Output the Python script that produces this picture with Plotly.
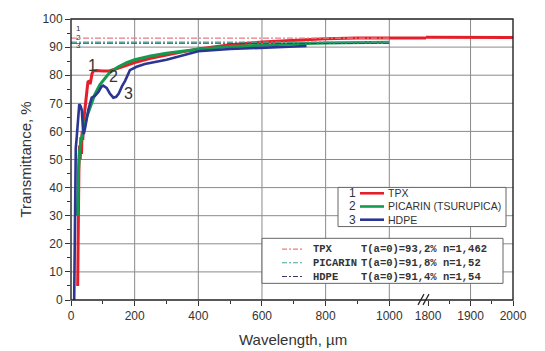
import plotly.graph_objects as go

# ---------------- data ----------------
tpx_wl = [21, 22, 23, 25, 27, 29, 31, 33, 35, 37, 40, 43, 47, 50, 53, 57, 60, 63, 66, 70, 80, 100,
          120, 140, 160, 180, 200, 250, 300, 350, 400, 500, 600, 700, 800, 900, 1000, 1100, 1200,
          1800, 1900, 2000]
tpx_T = [5, 30, 42, 48, 55, 50, 58, 52, 60, 57, 64, 67, 72, 74, 77.5, 78, 76.8, 78.5, 80.5, 81.5, 81.7, 81.5,
         81.5, 82.2, 83, 83.7, 84.5, 86, 87.2, 88.3, 89.3, 90.8, 91.8, 92.5, 93, 93.2, 93.4, 93.5, 93.5,
         93.5, 93.5, 93.4]

pic_wl = [20, 23, 27, 32, 39, 49, 60, 75, 91, 107, 122, 149, 175, 200, 250, 300, 350, 400, 500, 600,
          700, 800, 900, 1000]
pic_T = [30, 45, 53, 57, 60.5, 65, 68.5, 73.2, 76.7, 79, 81, 83, 84.5, 85.5, 86.8, 87.8, 88.6, 89.2,
         90.2, 90.8, 91.2, 91.5, 91.6, 91.7]

hdpe_wl = [10, 11, 12, 13, 15, 18, 22, 26, 30, 34, 37, 40, 44, 49, 55, 65, 75, 86, 95, 101, 112, 122,
           133, 142, 150, 160, 170, 185, 206, 232, 300, 350, 400, 500, 600, 700, 740]
hdpe_T = [0, 10, 40, 50, 54, 58, 66, 69.7, 69, 67.5, 62, 59, 61, 65, 68, 72, 72.6, 74, 75.8, 76.3, 75.5,
          73.5, 72, 72.3, 73.5, 76, 78, 81.8, 83, 84, 85.5, 87, 88.5, 89.3, 89.8, 90.2, 90.4]

names = ["TPX", "PICARIN (TSURUPICA)", "HDPE"]
short_names = ["TPX", "PICARIN", "HDPE"]
T0 = [93.2, 91.8, 91.4]
n_idx = ["1,462", "1,52", "1,54"]
ref_wl = [0, 1000]

x_ticks1 = [0, 200, 400, 600, 800, 1000]
x_ticks2 = [1800, 1900, 2000]
x_grid2 = [1900]
y_ticks = list(range(0, 101, 10))

# ---------------- styles ----------------
curve_colors = ["#e3202a", "#139a4c", "#2b3592"]
ref_colors = ["#ec7a82", "#4aa497", "#3a3a66"]
FONT = "Liberation Sans, Arial, sans-serif"
MONO = "Liberation Mono, Courier New, monospace"
TXT = "#333333"
GRID = "#8a8a8a"

W, H = 545, 351
L, R, TOP, BOT = 71, 513, 13, 300
BREAK_PX = 426
Y_RANGE = [0, 100]


def pp(px, py):
    return (px - L) / (R - L), (BOT - py) / (BOT - TOP)


dom_split = (BREAK_PX - L) / (R - L)
x1_range = [0, (BREAK_PX - L) / 0.3183]
x2_range = [2000 - (R - BREAK_PX) / 0.4244, 2000]


def xpaper(v, rng, dom):
    return dom[0] + (v - rng[0]) / (rng[1] - rng[0]) * (dom[1] - dom[0])


def ypaper(v):
    return (v - Y_RANGE[0]) / (Y_RANGE[1] - Y_RANGE[0])


fig = go.Figure()

# ---- curves ----
curves = [(tpx_wl, tpx_T), (pic_wl, pic_T), (hdpe_wl, hdpe_T)]
widths = [3, 3, 2.6]
for xa in ["x", "x2"]:
    for (wl, T), c, w in zip(curves, curve_colors, widths):
        fig.add_trace(go.Scatter(x=wl, y=T, xaxis=xa, yaxis="y", mode="lines",
                                 line=dict(color=c, width=w), showlegend=False,
                                 hoverinfo="skip"))

# reference dash-dot lines (T at a=0)
for i in [2, 1, 0]:
    fig.add_trace(go.Scatter(x=ref_wl, y=[T0[i], T0[i]], xaxis="x", yaxis="y", mode="lines",
                             line=dict(color=ref_colors[i], width=1.2, dash="6px,2px,2px,2px"),
                             showlegend=False, hoverinfo="skip"))

axis_common = dict(ticks="outside", ticklen=5, tickwidth=1, tickcolor="#333",
                   showline=False, zeroline=False, showgrid=False,
                   tickfont=dict(family=FONT, size=12, color=TXT))

fig.update_layout(
    width=W, height=H,
    margin=dict(l=L, r=W - R, t=TOP, b=H - BOT),
    paper_bgcolor="white", plot_bgcolor="rgba(0,0,0,0)",
    xaxis=dict(domain=[0, dom_split], range=x1_range, tickmode="array", tickvals=x_ticks1, anchor="y",
               minor=dict(tickmode="array", tickvals=[100, 300, 500, 700, 900], ticklen=3,
                          ticks="outside", tickcolor="#333"),
               **axis_common),
    xaxis2=dict(domain=[dom_split, 1], range=x2_range, tickmode="array", tickvals=x_ticks2, anchor="y",
                minor=dict(tickmode="array", tickvals=[1850, 1950], ticklen=3, ticks="outside",
                           tickcolor="#333"),
                **axis_common),
    yaxis=dict(range=Y_RANGE, tickmode="array", tickvals=y_ticks,
               minor=dict(dtick=5, ticklen=3, ticks="outside", tickcolor="#333"),
               **axis_common),
)

shapes = []
annotations = []

# grid lines, paper-referenced, beneath the curves
for gx in x_ticks1[1:]:
    xp = xpaper(gx, x1_range, [0, dom_split])
    shapes.append(dict(type="line", xref="paper", yref="paper", x0=xp, x1=xp, y0=0, y1=1,
                       line=dict(color=GRID, width=1), layer="below"))
for gx in x_grid2:
    xp = xpaper(gx, x2_range, [dom_split, 1])
    shapes.append(dict(type="line", xref="paper", yref="paper", x0=xp, x1=xp, y0=0, y1=1,
                       line=dict(color=GRID, width=1), layer="below"))
for gy in y_ticks[1:-1]:
    yp = ypaper(gy)
    shapes.append(dict(type="line", xref="paper", yref="paper", x0=0, x1=1, y0=yp, y1=yp,
                       line=dict(color=GRID, width=1), layer="below"))

# frame
shapes.append(dict(type="rect", xref="paper", yref="paper", x0=0, x1=1, y0=0, y1=1,
                   line=dict(color="#222", width=1.4), fillcolor="rgba(0,0,0,0)", layer="above"))

# axis break marks
for bx in [418, 423]:
    a = pp(bx, 305)
    b = pp(bx + 6, 294)
    shapes.append(dict(type="line", xref="paper", yref="paper", x0=a[0], y0=a[1], x1=b[0], y1=b[1],
                       line=dict(color="#222", width=1.2), layer="above"))

# legend 1
a = pp(338, 185)
b = pp(506, 225)
shapes.append(dict(type="rect", xref="paper", yref="paper", x0=a[0], y0=b[1], x1=b[0], y1=a[1],
                   line=dict(color="#666", width=1), fillcolor="white", layer="above"))
rows1 = [191, 204.5, 218]
for i, ry in enumerate(rows1):
    p0 = pp(360, ry)
    p1 = pp(384, ry)
    shapes.append(dict(type="line", xref="paper", yref="paper", x0=p0[0], y0=p0[1], x1=p1[0], y1=p1[1],
                       line=dict(color=curve_colors[i], width=2.6), layer="above"))
    q = pp(358, ry)
    annotations.append(dict(xref="paper", yref="paper", x=q[0], y=q[1], text=str(i + 1),
                            showarrow=False, xanchor="right", yanchor="middle",
                            font=dict(family=FONT, size=12, color=TXT)))
    q = pp(386, ry)
    annotations.append(dict(xref="paper", yref="paper", x=q[0], y=q[1], text=names[i],
                            showarrow=False, xanchor="left", yanchor="middle",
                            font=dict(family=FONT, size=10.5, color=TXT)))

# legend 2
a = pp(262, 237)
b = pp(503, 283)
shapes.append(dict(type="rect", xref="paper", yref="paper", x0=a[0], y0=b[1], x1=b[0], y1=a[1],
                   line=dict(color="#666", width=1), fillcolor="white", layer="above"))
rows2 = [248, 262, 276]
for i, ry in enumerate(rows2):
    p0 = pp(282, ry)
    p1 = pp(302, ry)
    shapes.append(dict(type="line", xref="paper", yref="paper", x0=p0[0], y0=p0[1], x1=p1[0], y1=p1[1],
                       line=dict(color=ref_colors[i], width=1.1, dash="5px,2px,2px,2px"),
                       layer="above"))
    q = pp(311, ry)
    annotations.append(dict(xref="paper", yref="paper", x=q[0], y=q[1], text="<b>%s</b>" % short_names[i],
                            showarrow=False, xanchor="left", yanchor="middle",
                            font=dict(family=MONO, size=10.5, color=TXT)))
    q = pp(359, ry)
    annotations.append(dict(xref="paper", yref="paper", x=q[0], y=q[1],
                            text="<b>T(a=0)=%s%% n=%s</b>" % (str(T0[i]).replace(".", ","), n_idx[i]),
                            showarrow=False, xanchor="left", yanchor="middle",
                            font=dict(family=MONO, size=10.5, color=TXT)))

# curve number labels
for i, (lx, ly) in enumerate([(69, 83.6), (133, 79.5), (180, 73.4)]):
    annotations.append(dict(xref="x", yref="y", x=lx, y=ly, text=str(i + 1), showarrow=False,
                            xanchor="center", yanchor="middle",
                            font=dict(family=FONT, size=16, color=TXT)))

# small labels at the reference lines
for i, ly in enumerate([96.6, 93.4, 90.4]):
    annotations.append(dict(xref="x", yref="y", x=25, y=ly, text=str(i + 1), showarrow=False,
                            xanchor="center", yanchor="middle",
                            font=dict(family=FONT, size=8, color=TXT)))

# axis titles
annotations.append(dict(xref="paper", yref="paper", x=0, y=0.5, xshift=-46, text="Transmittance, %",
                        textangle=-90, showarrow=False, xanchor="center", yanchor="middle",
                        font=dict(family=FONT, size=15, color=TXT)))
annotations.append(dict(xref="paper", yref="paper", x=(293 - L) / (R - L), y=0, yshift=-39,
                        text="Wavelength, µm", showarrow=False, xanchor="center", yanchor="middle",
                        font=dict(family=FONT, size=15, color=TXT)))

fig.update_layout(shapes=shapes, annotations=annotations)
fig.write_html("out.html")
